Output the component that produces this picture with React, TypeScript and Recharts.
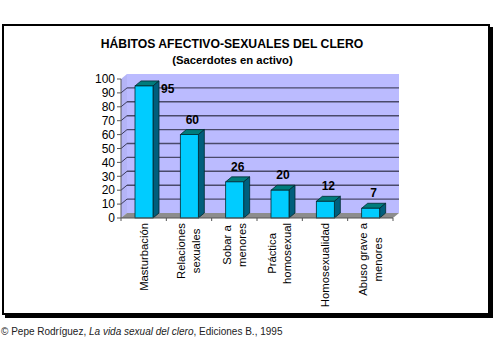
import React from 'react';
import { BarChart, Bar, XAxis, YAxis, CartesianGrid, ReferenceArea, LabelList } from 'recharts';

const categories = [
  'Masturbación',
  'Relaciones\nsexuales',
  'Sobar a\nmenores',
  'Práctica\nhomosexual',
  'Homosexualidad',
  'Abuso grave a\nmenores',
];
const values = [95, 60, 26, 20, 12, 7];
const yTicks = [0, 10, 20, 30, 40, 50, 60, 70, 80, 90, 100];
const gridValues = [10, 20, 30, 40, 50, 60, 70, 80, 90];

const title = 'HÁBITOS AFECTIVO-SEXUALES DEL CLERO';
const subtitle = '(Sacerdotes en activo)';

const data = categories.map((name, i) => ({ name, value: values[i] }));

const FONT = '"Liberation Sans", Arial, sans-serif';
const D = 6;
const DY = 5;
const PLOT_LEFT = 121;
const PLOT_RIGHT = 393;
const PLOT_TOP = 79;
const PLOT_BOTTOM = 218;
const HALF_BAND = (PLOT_RIGHT - PLOT_LEFT) / categories.length / 2;

let ctx: CanvasRenderingContext2D | null = null;
function measure(t: string, font: string) {
  if (!ctx) ctx = document.createElement('canvas').getContext('2d');
  if (!ctx) return t.length * 6;
  ctx.font = font;
  return ctx.measureText(t).width;
}

function Bar3D(props: any) {
  const { x, y, width, height } = props;
  if (!height || height <= 0) return null;
  const b = y + height;
  return (
    <g>
      <path
        d={`M${x},${y} L${x + D},${y - DY} L${x + width + D},${y - DY} L${x + width},${y} Z`}
        fill="#007C7C"
        stroke="#002A30"
        strokeWidth={0.8}
      />
      <path
        d={`M${x + width},${y} L${x + width + D},${y - DY} L${x + width + D},${b - DY} L${x + width},${b} Z`}
        fill="#005E7C"
        stroke="#002A30"
        strokeWidth={0.8}
      />
      <rect x={x} y={y} width={width} height={height} fill="#00CCFF" stroke="#002A30" strokeWidth={0.8} />
    </g>
  );
}

function Walls(props: any) {
  const { x, y, width, height } = props;
  const b = y + height;
  return (
    <g>
      <rect x={x + D} y={y - DY} width={width} height={height} fill="#BBBBFF" />
      <path d={`M${x},${y} L${x + D},${y - DY} L${x + D},${b - DY} L${x},${b} Z`} fill="#B4B4F6" />
      <path
        d={`M${x},${b} L${x + D},${b - DY} L${x + width + D},${b - DY} L${x + width},${b} Z`}
        fill="#8C8C8C"
      />
    </g>
  );
}

function GridLine(props: any) {
  const { x1, y1, x2, y2 } = props;
  return (
    <g key={`g-${y1}`}>
      <line x1={x1} y1={y1} x2={x1 + D} y2={y1 - DY} stroke="#3C3C5C" strokeWidth={1} />
      <line x1={x1 + D} y1={y1 - DY} x2={x2 + D} y2={y2 - DY} stroke="#4A4A6A" strokeWidth={1.4} />
    </g>
  );
}

function XTick(props: any) {
  const { x, y, payload, index } = props;
  const lines = String(payload.value).split('\n');
  const fontSize = 11.3;
  const font = `${fontSize}px "Liberation Sans"`;
  const maxW = Math.max(...lines.map((l) => measure(l, font)));
  const cy = y + 5 + maxW / 2;
  const n = lines.length;
  return (
    <g>
      <line x1={x + HALF_BAND} y1={y} x2={x + HALF_BAND} y2={y + 3} stroke="#555" />
      {index === 0 && <line x1={x - HALF_BAND} y1={y} x2={x - HALF_BAND} y2={y + 3} stroke="#555" />}
      {lines.map((l, i) => {
        const bx = x + (i - (n - 1) / 2) * 15 + 4;
        return (
          <text
            key={i}
            x={bx}
            y={cy}
            transform={`rotate(-90 ${bx} ${cy})`}
            textAnchor="middle"
            fontFamily={FONT}
            fontSize={fontSize}
            fill="#000"
          >
            {l}
          </text>
        );
      })}
    </g>
  );
}

function ValueLabel(props: any) {
  const { x, y, width, value } = props;
  const cx = x + width / 2 + D / 2;
  let tx = cx;
  let ty = y - 11;
  let anchor: 'middle' | 'start' = 'middle';
  if (ty - 10 < PLOT_TOP - DY) {
    tx = x + width + D + 2;
    ty = y + 7;
    anchor = 'start';
  }
  return (
    <text x={tx} y={ty} textAnchor={anchor} fontFamily={FONT} fontSize={12} fontWeight="bold" fill="#000">
      {value}
    </text>
  );
}

export default function App() {
  return (
    <div style={{ position: 'fixed', left: 0, top: 0, width: 500, height: 357, background: '#fff' }}>
      <div
        style={{
          position: 'absolute',
          left: 2,
          top: 24,
          width: 488,
          height: 291,
          border: '2px solid #000',
          boxShadow: '3px 3px 0 #000',
          boxSizing: 'border-box',
          background: '#fff',
        }}
      />
      <div style={{ position: 'absolute', left: 0, top: 0 }}>
        <BarChart
          width={500}
          height={357}
          data={data}
          margin={{ top: PLOT_TOP, right: 500 - PLOT_RIGHT, bottom: 357 - PLOT_BOTTOM - 100, left: PLOT_LEFT - 30 }}
          barSize={18}
        >
          <ReferenceArea y1={0} y2={100} ifOverflow="visible" shape={Walls} zIndex={-200} />
          <CartesianGrid vertical={false} horizontal={GridLine} horizontalValues={gridValues} zIndex={-100} />
          <XAxis
            dataKey="name"
            height={100}
            interval={0}
            tickSize={0}
            tickMargin={0}
            tickLine={false}
            axisLine={{ stroke: '#555' }}
            tick={<XTick />}
          />
          <YAxis
            domain={[0, 100]}
            ticks={yTicks}
            interval={0}
            width={30}
            tickSize={4}
            tickMargin={2}
            axisLine={{ stroke: '#555' }}
            tickLine={{ stroke: '#555' }}
            tick={{ fontSize: 12, fill: '#000', fontFamily: FONT }}
          />
          <Bar dataKey="value" shape={<Bar3D />} isAnimationActive={false}>
            <LabelList dataKey="value" content={<ValueLabel />} />
          </Bar>
        </BarChart>
      </div>
      <svg width={500} height={357} style={{ position: 'absolute', left: 0, top: 0, pointerEvents: 'none' }}>
        <text x={232} y={48} textAnchor="middle" fontFamily={FONT} fontSize={12.2} fontWeight="bold" fill="#000">
          {title}
        </text>
        <text x={232.5} y={64} textAnchor="middle" fontFamily={FONT} fontSize={11.3} fontWeight="bold" fill="#000">
          {subtitle}
        </text>
        <text x={1} y={335} fontFamily={FONT} fontSize={10} fill="#222">
          <tspan>© Pepe Rodríguez, </tspan>
          <tspan fontStyle="italic">La vida sexual del clero</tspan>
          <tspan>, Ediciones B., 1995</tspan>
        </text>
      </svg>
    </div>
  );
}
